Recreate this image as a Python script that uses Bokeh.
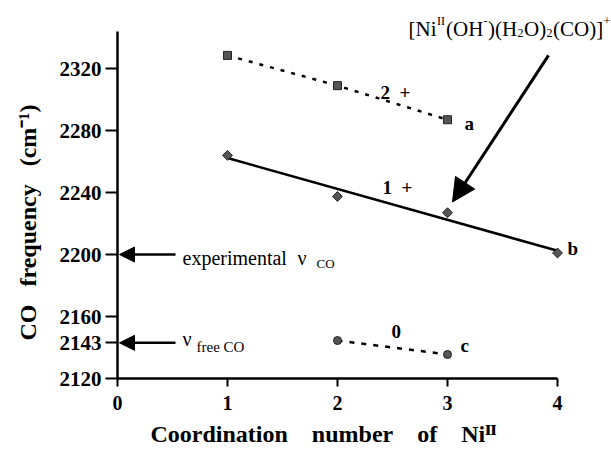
import numpy as np
from bokeh.plotting import figure
from bokeh.models import Range1d, FixedTicker, Label, Arrow, NormalHead, Title
from bokeh.embed import file_html
from bokeh.resources import INLINE

# ---- data ----
a_x = [1, 2, 3]
a_y = [2328.5, 2309.0, 2287.0]          # 2+ series
b_x = [1, 2, 3, 4]
b_y = [2264.0, 2237.5, 2227.0, 2201.0]  # 1+ series
c_x = [2, 3]
c_y = [2144.5, 2135.5]                  # neutral series
x_ticks = [0, 1, 2, 3, 4]
y_ticks = [2120, 2143, 2160, 2200, 2240, 2280, 2320]
exp_nu = 2200     # experimental nu CO
free_nu = 2143    # free CO
x_axis_span = (0, 4)
y_axis_span = (2120, 2344)

# ---- layout ----
W, H = 611, 453
FL, FB = 117, 379           # frame left / bottom (pixels)
SX = 110.0                  # pixels per x unit
SY = 348.0 / 224.0          # pixels per y unit
FONT = "Liberation Serif"
SP = "\u00a0"

x_view = (x_axis_span[0], x_axis_span[0] + (W - FL) / SX)
y_view = (y_axis_span[0], y_axis_span[0] + FB / SY)

p = figure(width=W, height=H, output_backend="svg", toolbar_location=None,
           title=None,
           x_range=Range1d(*x_view), y_range=Range1d(*y_view),
           min_border_left=FL, min_border_right=0,
           min_border_top=0, min_border_bottom=H - FB)
p.outline_line_color = None
p.grid.visible = False
p.background_fill_color = "white"
p.border_fill_color = "white"

for ax in (p.xaxis[0], p.yaxis[0]):
    ax.axis_line_width = 2.5
    ax.axis_line_color = "black"
    ax.major_tick_line_width = 2
    ax.major_tick_in = 0
    ax.minor_tick_in = 0
    ax.minor_tick_out = 0
    ax.major_label_text_font = FONT
    ax.major_label_text_font_style = "bold"
    ax.major_label_text_color = "black"

p.xaxis.ticker = FixedTicker(ticks=x_ticks)
p.xaxis.bounds = x_axis_span
p.xaxis.major_tick_out = 8
p.xaxis.major_label_standoff = 9
p.xaxis.major_label_text_font_size = "20px"

p.yaxis.ticker = FixedTicker(ticks=y_ticks)
p.yaxis.bounds = y_axis_span
p.yaxis.major_tick_out = 12
p.yaxis.major_label_standoff = 4
p.yaxis.major_label_text_font_size = "21px"


def dx(px):
    return x_view[0] + (px - FL) / SX


def dy(py):
    return y_view[0] + (FB - py) / SY


def lab(text, px, py, size, bold=False, align="left", baseline="alphabetic"):
    p.add_layout(Label(x=dx(px), y=dy(py), text=text, text_font=FONT,
                       text_font_size=f"{size}px",
                       text_font_style="bold" if bold else "normal",
                       text_align=align, text_baseline=baseline,
                       text_color="black"))


# ---- series ----
mfill, mline = "#555555", "#222222"
p.line(a_x, a_y, line_color="black", line_width=2.5, line_dash="4 7")
p.scatter(a_x, a_y, marker="square", size=8, fill_color=mfill, line_color=mline)

coef = np.polyfit(b_x, b_y, 1)
fit_x = [b_x[0], b_x[-1]]
fit_y = [float(np.polyval(coef, v)) for v in fit_x]
p.line(fit_x, fit_y, line_color="black", line_width=2.5)
p.scatter(b_x, b_y, marker="square", angle=np.pi / 4, size=7,
          fill_color=mfill, line_color=mline)

p.line(c_x, c_y, line_color="black", line_width=2.5, line_dash="5 7")
p.scatter(c_x, c_y, marker="circle", size=8, fill_color=mfill, line_color=mline)

# ---- arrows ----
p.add_layout(Arrow(end=NormalHead(size=15, fill_color="black", line_color="black"),
                   x_start=dx(175), y_start=exp_nu, x_end=dx(119), y_end=exp_nu,
                   line_width=2.5, line_color="black"))
p.add_layout(Arrow(end=NormalHead(size=15, fill_color="black", line_color="black"),
                   x_start=dx(175), y_start=free_nu, x_end=dx(119), y_end=free_nu,
                   line_width=2.5, line_color="black"))
p.add_layout(Arrow(end=NormalHead(size=23, fill_color="black", line_color="black"),
                   x_start=dx(548), y_start=dy(55), x_end=dx(452), y_end=dy(202),
                   line_width=3, line_color="black"))

# ---- in-plot labels ----
lab("2" + SP * 2 + "+", 380, 92, 19, bold=True)
lab("a", 464, 123, 19, bold=True)
lab("1" + SP * 2 + "+", 382, 187, 19, bold=True)
lab("b", 567, 249, 19, bold=True)
lab("0", 391, 332, 19, bold=True)
lab("c", 460, 346, 19, bold=True)

lab("experimental", 182, 258, 20)
lab("ν", 297, 258, 20)
lab("CO", 316, 264, 13)
lab("ν", 182, 339, 20)
lab("free CO", 196, 347, 15)

# formula [Ni(II)(OH-)(H2O)2(CO)]+
lab("[Ni", 408, 29, 21)
lab("II", 436.5, 21, 12)
lab("(OH", 445.5, 29, 21)
lab("-", 483, 21, 12)
lab(")(H", 487.5, 29, 21)
lab("2", 517, 33, 12)
lab("O)", 523.5, 29, 21)
lab("2", 546, 33, 12)
lab("(CO)]", 552.5, 29, 21)
lab("+", 603, 21, 12)

# ---- axis titles ----
ytitle = Title(text=f"CO{SP*3}frequency{SP*3}(cm⁻¹)", align="left", offset=38,
               vertical_align="top",
               text_font=FONT, text_font_size="24px", text_font_style="bold",
               text_color="black", standoff=28)
p.add_layout(ytitle, "left")
xtitle = Title(text=f"Coordination{SP*4}number{SP*4}of{SP*4}Niᴵᴵ", align="left", offset=33,
               text_font=FONT, text_font_size="24px", text_font_style="bold",
               text_color="black", standoff=13)
p.add_layout(xtitle, "below")

open("out.html", "w").write(file_html(p, INLINE))
